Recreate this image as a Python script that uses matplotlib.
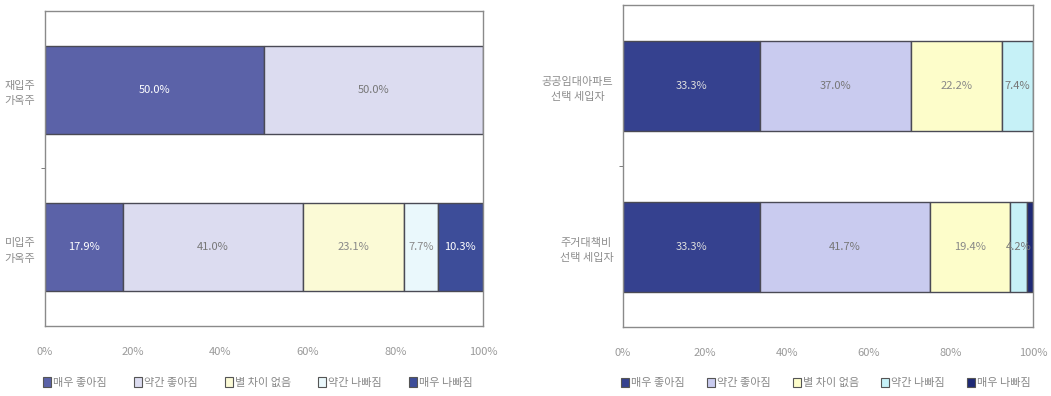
import matplotlib
matplotlib.use("Agg")
import matplotlib.pyplot as plt
from matplotlib.patches import Patch

plt.rcParams['font.family'] = ['Noto Sans CJK KR', 'DejaVu Sans']

responses = ["매우 좋아짐", "약간 좋아짐", "별 차이 없음", "약간 나빠짐", "매우 나빠짐"]

# left chart: owner households
left_groups = ["재입주\n가옥주", "미입주\n가옥주"]
left_values = [
    [50.0, 50.0, 0.0, 0.0, 0.0],
    [17.9, 41.0, 23.1, 7.7, 10.3],
]
left_colors = ["#5b62a8", "#dcdcf0", "#fbfad6", "#eaf8fc", "#3d4d99"]
left_text = ["white", "#777777", "#888888", "#888888", "white"]

# right chart: tenants
right_groups = ["공공임대아파트\n선택 세입자", "주거대책비\n선택 세입자"]
right_values = [
    [33.3, 37.0, 22.2, 7.4, 0.0],
    [33.3, 41.7, 19.4, 4.2, 1.4],
]
right_colors = ["#35418f", "#c9cbef", "#fdfdca", "#c6f1f7", "#1e2975"]
right_text = ["#dddddd", "#777777", "#888888", "#777777", "white"]

fig = plt.figure(figsize=(10.51, 3.96), dpi=100)
ax1 = fig.add_axes([0.0428, 0.177, 0.4167, 0.795])
ax2 = fig.add_axes([0.5928, 0.174, 0.390, 0.813])


def draw(ax, groups, values, colors, tcolors, leg_y, colspace, show_min=2.0):
    n = len(groups)
    ypos = list(range(n - 1, -1, -1))
    for y, row in zip(ypos, values):
        left = 0
        for v, c, tc in zip(row, colors, tcolors):
            if v > 0:
                ax.barh(y, v, left=left, height=0.56, color=c,
                        edgecolor="#4a4a55", linewidth=1.0)
                if v >= show_min:
                    ax.text(left + v / 2, y, f"{v:.1f}%", ha="center",
                            va="center", fontsize=8, color=tc)
            left += v
    ax.set_xlim(0, 100)
    ax.set_ylim(-0.5, n - 0.5)
    ax.set_yticks(ypos)
    ax.set_yticklabels(groups, fontsize=8, color="#8c8c8c", linespacing=1.7,
                       multialignment="center")
    ax.set_yticks([0.5], minor=True)
    ax.tick_params(axis="y", which="major", length=0, pad=7)
    ax.tick_params(axis="y", which="minor", length=3, color="#666666")
    ax.set_xticks([0, 20, 40, 60, 80, 100])
    ax.set_xticklabels(["0%", "20%", "40%", "60%", "80%", "100%"],
                       fontsize=8, color="#9a9a9a")
    ax.tick_params(axis="x", length=0, pad=15)
    for s in ax.spines.values():
        s.set_color("#8a8a8a")
        s.set_linewidth(1.0)
    handles = [Patch(facecolor=c, edgecolor="#555555", linewidth=0.8, label=r)
               for c, r in zip(colors, responses)]
    leg = ax.legend(handles=handles, loc="center left", bbox_to_anchor=(-0.005, leg_y),
                    ncol=5, frameon=False, fontsize=8, handlelength=0.7,
                    handleheight=0.9, handletextpad=0.2, columnspacing=colspace,
                    borderaxespad=0, borderpad=0)
    for t in leg.get_texts():
        t.set_color("#888888")


draw(ax1, left_groups, left_values, left_colors, left_text, -0.18, 2.45)
draw(ax2, right_groups, right_values, right_colors, right_text, -0.174, 2.0)

fig.savefig("out.png", dpi=100)
